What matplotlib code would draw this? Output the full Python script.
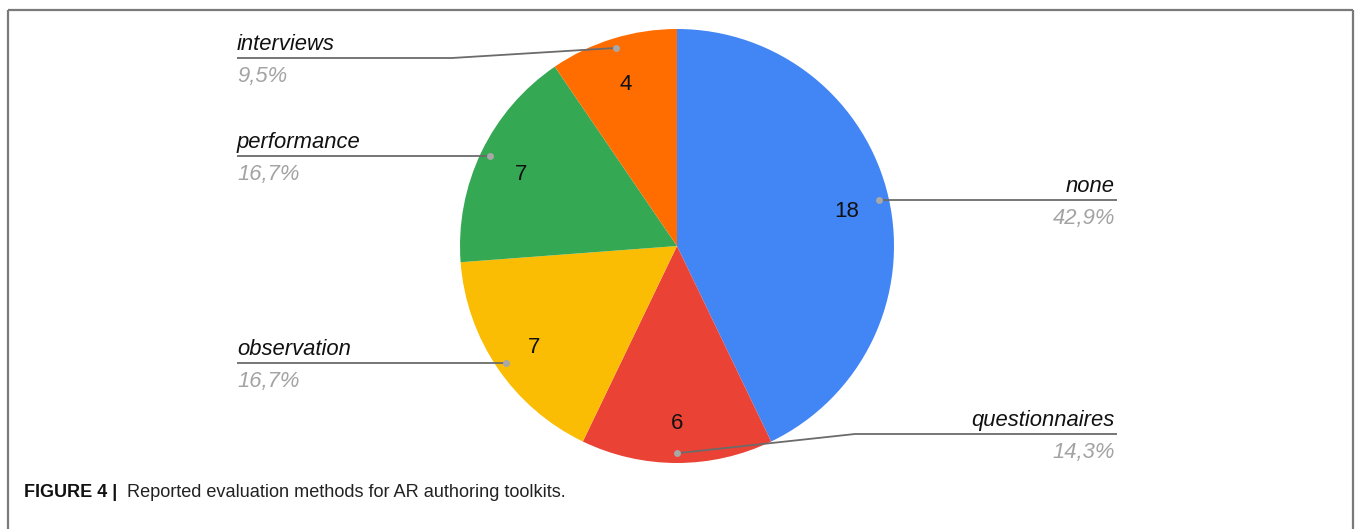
import matplotlib
matplotlib.use("Agg")
import matplotlib.pyplot as plt
import numpy as np

categories = ["none", "questionnaires", "observation", "performance", "interviews"]
values = [18, 6, 7, 7, 4]
percent_labels = ["42,9%", "14,3%", "16,7%", "16,7%", "9,5%"]
colors = ["#4285F4", "#EA4335", "#FBBC04", "#34A853", "#FF6D01"]
caption_bold = "FIGURE 4 |"
caption_text = "Reported evaluation methods for AR authoring toolkits."

W, H = 1356, 529
fig = plt.figure(figsize=(W / 100, H / 100), dpi=100)
ax = fig.add_axes([0, 0, 1, 1])

def Y(py):
    return H - py

cx, cy, R = 677, 246, 217
wedges, _ = ax.pie(values, colors=colors, startangle=90, counterclock=False,
                   center=(cx, Y(cy)), radius=R,
                   wedgeprops=dict(linewidth=0, antialiased=True))
ax.set_xlim(0, W)
ax.set_ylim(0, H)
ax.set_aspect("equal")
ax.axis("off")

font = "Liberation Sans"
line_col = "#6b6b6b"
dot_col = "#a8a8a8"
pct_col = "#a3a3a3"

mids = []
for w in wedges:
    m = np.deg2rad((w.theta1 + w.theta2) / 2)
    mids.append(m)

# value labels and dots
dots = []
for v, m in zip(values, mids):
    tx = cx + 0.80 * R * np.cos(m)
    ty = Y(cy) + 0.80 * R * np.sin(m) - 4
    ax.text(tx, ty, str(v), ha="center", va="center", fontsize=16,
            family=font, color="#111111", zorder=5)
    dx = cx + 0.955 * R * np.cos(m)
    dy = Y(cy) + 0.955 * R * np.sin(m)
    dots.append((dx, dy))

# leader lines: (label side, line y in px, bend x)
left_x, right_x = 237, 1117
layout = {
    "none": ("right", None, None),
    "questionnaires": ("right", 434, 855),
    "observation": ("left", None, None),
    "performance": ("left", None, None),
    "interviews": ("left", 58, 452),
}

for cat, pct, (dx, dy) in zip(categories, percent_labels, dots):
    side, ly, bend = layout[cat]
    line_y = dy if ly is None else Y(ly)
    xs = [dx] + ([bend] if bend else []) + [right_x if side == "right" else left_x]
    ys = [dy] + ([line_y] if bend else []) + [line_y]
    if side == "right":
        tx, ha = right_x - 2, "right"
    else:
        tx, ha = left_x, "left"
    ax.plot(xs, ys, color=line_col, lw=1.3, zorder=6, solid_capstyle="butt")
    ax.plot([dx], [dy], marker="o", ms=5, color=dot_col, mec="none", zorder=7)
    ax.text(tx, line_y + 8, cat, ha=ha, va="baseline", fontsize=15.8,
            family=font, style="italic", color="#111111")
    ax.text(tx, line_y - 24, pct, ha=ha, va="baseline", fontsize=15.8,
            family=font, style="italic", color=pct_col)

# frame
fc = "#7a7a7a"
ax.plot([8, 8], [Y(10), 0], color=fc, lw=1.6, solid_capstyle="butt")
ax.plot([8, 1353], [Y(10), Y(10)], color=fc, lw=1.6, solid_capstyle="butt")
ax.plot([1353, 1353], [Y(10), 0], color=fc, lw=1.6, solid_capstyle="butt")

# caption
t1 = ax.text(24, Y(497), caption_bold, ha="left", va="baseline", fontsize=13,
             family=font, weight="bold", color="#111111")
fig.canvas.draw()
bb = t1.get_window_extent(renderer=fig.canvas.get_renderer())
ax.text(bb.x1 + 10, Y(497), caption_text, ha="left", va="baseline", fontsize=13.1,
        family=font, color="#222222")

fig.savefig("out.png", dpi=100)
